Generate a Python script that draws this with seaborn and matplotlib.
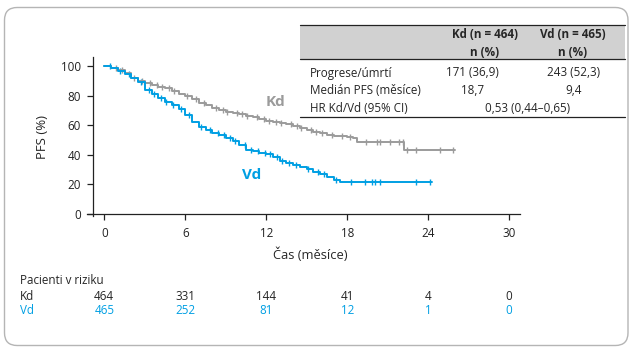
import numpy as np
import seaborn as sns
import matplotlib.pyplot as plt
import matplotlib.transforms as mtransforms
from matplotlib.patches import Rectangle, FancyBboxPatch

# Kaplan-Meier odhady (čas v měsících, PFS v %)
kd_time = [0, 0.5, 1, 1.5, 2, 2.5, 3, 3.5, 4, 4.5, 5, 5.5, 6, 6.5, 7, 7.5, 8, 8.5, 9, 9.5,
           10, 10.5, 11, 11.5, 12, 12.5, 13, 13.5, 14, 14.5, 15, 15.5, 16, 16.5, 17, 17.5,
           18, 18.4, 18.7, 22.2, 26.0]
kd_pfs = [100, 99, 97.5, 95.5, 92, 90, 88.5, 87.5, 86, 85, 83.5, 81, 79.5, 78, 75, 73.5,
          71.5, 70.5, 69, 68.5, 67.5, 66.5, 65.5, 64, 63, 62.4, 61.5, 60.8, 59.5, 58.2, 57,
          55.8, 54.5, 53.5, 53, 52.7, 52, 51.1, 48.6, 43.2, 43.2]
vd_time = [0, 0.5, 1, 1.5, 2, 2.5, 3, 3.5, 4, 4.5, 5, 5.5, 6, 6.5, 7, 7.5, 8, 8.5, 9, 9.5,
           10, 10.5, 11, 11.5, 12, 12.5, 13, 13.5, 14, 14.5, 15, 15.5, 16, 16.5, 17, 17.5, 24.25]
vd_pfs = [100, 98.5, 96.5, 94.5, 92, 89, 84, 81.5, 78.5, 76, 73.5, 71, 67, 62.5, 59, 56.5,
          55, 53.5, 51.5, 49.5, 47, 43.5, 42.5, 41.5, 40.5, 38.5, 36, 34.2, 33, 31.5, 30.5,
          28.5, 27, 25, 23, 21.4, 21.4]

# cenzurovaná pozorování (čas v měsících)
kd_censor = [0.9, 1.3, 2.2, 2.8, 3.4, 3.9, 4.3, 4.8, 5.2, 6.1, 6.8, 7.4, 8.3, 8.8, 9.1, 9.8,
             10.2, 10.6, 11.3, 11.8, 12.2, 12.7, 13.1, 13.8, 14.3, 14.6, 15.3, 15.7, 16.1,
             16.9, 17.6, 18.2, 19.4, 20.2, 20.4, 21.2, 21.8, 22.1, 22.4, 23.1, 24.9, 25.8]
vd_censor = [0.4, 1.2, 1.8, 2.7, 3.3, 3.7, 4.2, 4.6, 5.1, 5.7, 6.3, 7.2, 7.8, 8.4, 8.9,
             9.3, 9.7, 10.4, 10.9, 11.4, 11.9, 12.3, 12.8, 13.2, 13.7, 14.2, 15.1, 15.8,
             16.3, 17.2, 18.3, 19.3, 19.8, 20.05, 20.4, 23.1, 24.1]

risk_times = [0, 6, 12, 18, 24, 30]
kd_risk = [464, 331, 144, 41, 4, 0]
vd_risk = [465, 252, 81, 12, 1, 0]

table_cols = ["Kd (n = 464)\nn (%)", "Vd (n = 465)\nn (%)"]
table_rows = ["Progrese/úmrtí", "Medián PFS (měsíce)", "HR Kd/Vd (95% CI)"]
table_kd = ["171 (36,9)", "18,7"]
table_vd = ["243 (52,3)", "9,4"]
table_hr = "0,53 (0,44–0,65)"

GRAY = "#9b9b9b"
BLUE = "#009fe3"

sns.set_style("ticks")
plt.rcParams['font.family'] = ['Open Sans', 'DejaVu Sans']

W, H = 634, 354
fig = plt.figure(figsize=(W / 100, H / 100), dpi=100)


def fx(px):
    return px / W


def fy(py):
    return 1 - py / H


ax = fig.add_axes([fx(87), fy(215.5), fx(520) - fx(87), fy(57.3) - fy(215.5)])


def step_value(times, vals, t):
    i = np.searchsorted(times, t, side='right') - 1
    return vals[max(i, 0)]


for t, s, cens, col in [(kd_time, kd_pfs, kd_censor, GRAY), (vd_time, vd_pfs, vd_censor, BLUE)]:
    sns.lineplot(x=t, y=s, ax=ax, color=col, lw=1.4, drawstyle='steps-post')
    cy = [step_value(t, s, c) for c in cens]
    sns.scatterplot(x=cens, y=cy, ax=ax, color=col, marker='|', s=14, linewidth=1.0)

ax.set_xlim(-1.28, 30.8)
ax.set_ylim(-1, 106)
ax.spines['left'].set_position(('data', -0.8))
ax.spines['bottom'].set_position(('data', 0))
sns.despine(ax=ax)
for sp in ['left', 'bottom']:
    ax.spines[sp].set_linewidth(0.9)
    ax.spines[sp].set_color('#222222')
ax.set_xticks(risk_times)
ax.set_yticks([0, 20, 40, 60, 80, 100])
ax.tick_params(length=4, width=0.9, labelsize=8.4, colors='#222222', pad=5)
ax.set_xlabel("")
ax.set_ylabel("")

ax.text(12.7, 75.7, "Kd", color=GRAY, fontsize=11, fontweight='bold', ha='center', va='center')
ax.text(10.9, 26.4, "Vd", color=BLUE, fontsize=11, fontweight='bold', ha='center', va='center')

fig.text(fx(43), fy(137), "PFS (%)", rotation=90, fontsize=9.5, ha='center', va='center')
fig.text(fx(310), fy(255), "Čas (měsíce)", fontsize=9.3, ha='center', va='center')

# tabulka pacientů v riziku
tr = mtransforms.blended_transform_factory(ax.transData, fig.transFigure)
fig.text(fx(20), fy(280), "Pacienti v riziku", fontsize=8.4, ha='left', va='center')
fig.text(fx(20), fy(296), "Kd", fontsize=8.4, ha='left', va='center')
fig.text(fx(20), fy(311), "Vd", fontsize=8.4, ha='left', va='center', color=BLUE)
for t, a, b in zip(risk_times, kd_risk, vd_risk):
    ax.text(t, fy(296), str(a), transform=tr, fontsize=8.4, ha='center', va='center')
    ax.text(t, fy(311), str(b), transform=tr, fontsize=8.4, ha='center', va='center', color=BLUE)

# souhrnná tabulka
fig.patches.append(Rectangle((fx(300), fy(59.3)), fx(625) - fx(300), fy(25) - fy(59.3),
                             transform=fig.transFigure, facecolor='#d1d1d1', edgecolor='none'))
for yy in [25, 59.3, 116.7]:
    fig.add_artist(plt.Line2D([fx(300), fx(625)], [fy(yy), fy(yy)], transform=fig.transFigure,
                              color='#222222', lw=0.9))
for cx, lab in zip([485, 573], table_cols):
    top, sub = lab.split("\n")
    fig.text(fx(cx), fy(35), top, fontsize=8.4, fontweight='bold', ha='center', va='center')
    fig.text(fx(cx), fy(53), sub, fontsize=8.4, fontweight='bold', ha='center', va='center')
row_y = [73, 91, 109]
for yy, lab in zip(row_y, table_rows):
    fig.text(fx(310), fy(yy), lab, fontsize=8.4, ha='left', va='center')
for yy, a, b in zip(row_y[:2], table_kd, table_vd):
    fig.text(fx(472), fy(yy), a, fontsize=8.4, ha='center', va='center')
    fig.text(fx(574), fy(yy), b, fontsize=8.4, ha='center', va='center')
fig.text(fx(528), fy(109), table_hr, fontsize=8.4, ha='center', va='center')

# zaoblený rámeček
fig.patches.append(FancyBboxPatch((fx(4.5), fy(345.5)), fx(628) - fx(4.5), fy(7.5) - fy(345.5),
                                  boxstyle="round,pad=0,rounding_size=0.02",
                                  transform=fig.transFigure, facecolor='none',
                                  edgecolor='#b5b5b5', lw=1.0, mutation_aspect=W / H))

fig.savefig("out.png", dpi=100)
